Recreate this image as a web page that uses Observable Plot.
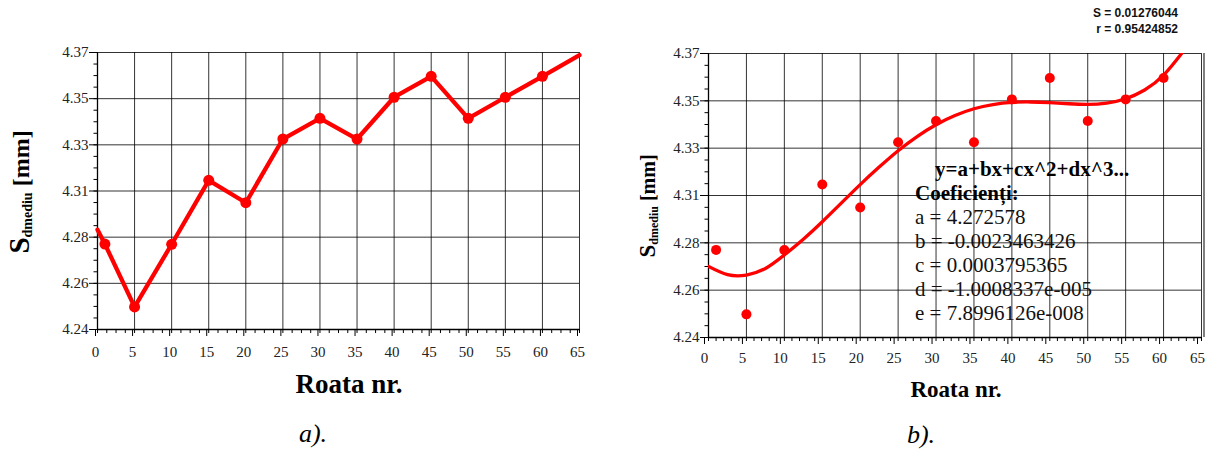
<!DOCTYPE html>
<html>
<head>
<meta charset="utf-8">
<style>
  html, body { margin: 0; padding: 0; background: #fff; }
  #wrap { position: relative; width: 1211px; height: 450px; overflow: hidden; background: #fff; }
  #wrap > svg { position: absolute; margin: 0; }
  #wrap svg text, #wrap svg tspan { font-family: "Liberation Serif"; }
  #wrap svg text.sans { font-family: "Liberation Sans"; }
</style>
</head>
<body>
<div id="wrap"></div>
<script src="https://cdn.jsdelivr.net/npm/d3@7"></script>
<script src="https://cdn.jsdelivr.net/npm/@observablehq/plot@0.6"></script>
<script>
// ---------- data ----------
const roata = [1, 5, 10, 15, 20, 25, 30, 35, 40, 45, 50, 55, 60];
const sdmediu = [4.2801, 4.2506, 4.2800, 4.3100, 4.2995, 4.3294, 4.3391, 4.3294, 4.3490, 4.3588, 4.3391, 4.3490, 4.3588];

// line in chart a) runs on to the frame edges
const lineStartX = 0, lineStartY = 4.2868;
const lineEndX = 65, lineEndY = 4.3688;

// fitted curve of chart b)
const fitX = [0, 2.5, 5, 7.5, 10, 12.5, 15, 17.5, 20, 22.5, 25, 27.5, 30, 32.5, 35, 37.5, 40, 42.5, 45, 47.5, 50, 52.5, 55, 57.5, 60, 62.6];
const fitY = [4.2725, 4.2688, 4.2686, 4.2716, 4.2778, 4.2850, 4.2930, 4.3015, 4.3100, 4.3180, 4.3255, 4.3320, 4.3374, 4.3416, 4.3447, 4.3466, 4.3476, 4.3478, 4.3475, 4.3470, 4.3467, 4.3473, 4.3493, 4.3533, 4.3601, 4.3710];

const xTickLabels = [0, 5, 10, 15, 20, 25, 30, 35, 40, 45, 50, 55, 60, 65];
const yTickLabels = ["4.24", "4.26", "4.28", "4.31", "4.33", "4.35", "4.37"];
const yMin = 4.24, yMax = 4.37;

const fitText = ["a = 4.272578", "b = -0.0023463426", "c = 0.0003795365", "d = -1.0008337e-005", "e = 7.8996126e-008"];
const statS = "S = 0.01276044";
const statR = "r = 0.95424852";

// ---------- derived tables ----------
const points = roata.map((x, i) => ({x, y: sdmediu[i]}));
const lineA = [{x: lineStartX, y: lineStartY}, ...points, {x: lineEndX, y: lineEndY}];
const fit = fitX.map((x, i) => ({x, y: fitY[i]}));
const yMajor = yTickLabels.map((_, i) => yMin + i * (yMax - yMin) / (yTickLabels.length - 1));
const yMinor = d3.range(0, 25).map(i => yMin + i * (yMax - yMin) / 24);
const xMinorA = d3.range(0, 53).map(i => i * 1.25);
const xMinorB = d3.range(0, 66);
const yFmt = d => yTickLabels[yMajor.indexOf(d)];

const SERIF = "Liberation Serif";
const red = "#ff0000";
const gridStyle = {stroke: "#000", strokeOpacity: 0.8, strokeWidth: 1};

function chart(opts) {
  return Plot.plot({
    width: opts.width, height: opts.height,
    marginLeft: opts.ml, marginRight: opts.mr, marginTop: opts.mt, marginBottom: opts.mb,
    x: {domain: [0, 65]},
    y: {domain: [yMin, yMax]},
    style: {fontFamily: SERIF, fontSize: "15px", color: "#222", background: "transparent", overflow: "visible"},
    marks: [
      Plot.gridX(xTickLabels, gridStyle),
      Plot.gridY(yMajor, gridStyle),
      Plot.axisX(xTickLabels, {tickSize: 7, tickPadding: opts.xpad, label: null, dx: opts.xdx, stroke: "#000", fill: "#222", fontFamily: SERIF, fontSize: 15}),
      Plot.axisX(opts.xMinor, {tickSize: 4, tickFormat: () => "", label: null, stroke: "#000"}),
      Plot.axisY(yMajor, {tickSize: 8, tickPadding: 1, tickFormat: yFmt, label: null, stroke: "#000", fill: "#222", fontFamily: SERIF, fontSize: 15}),
      Plot.axisY(yMinor, {tickSize: 3.5, tickFormat: () => "", label: null, stroke: "#000"}),
      Plot.ruleX([0], {stroke: "#000", strokeWidth: 1.3}),
      Plot.ruleY([yMin], {stroke: "#000", strokeWidth: 1.3}),
      ...opts.marks
    ]
  });
}

const wrap = document.getElementById("wrap");

const left = chart({
  width: 600, height: 360, ml: 97, mr: 21, mt: 52, mb: 31, xpad: 10, xdx: -2, xMinor: xMinorA,
  marks: [
    Plot.line(lineA, {x: "x", y: "y", stroke: red, strokeWidth: 4.3, strokeLinejoin: "round"}),
    Plot.dot(points, {x: "x", y: "y", r: 5.5, fill: red})
  ]
});
left.style.left = "0px"; left.style.top = "0px";
wrap.appendChild(left);

const right = chart({
  width: 611, height: 370, ml: 108, mr: 10, mt: 53, mb: 33, xpad: 8, xdx: -4, xMinor: xMinorB,
  marks: [
    Plot.ruleX([65], {stroke: "#000", strokeWidth: 1, dx: 2.5}),
    Plot.line(fit, {x: "x", y: "y", stroke: red, strokeWidth: 3.3, curve: "natural", clip: true}),
    Plot.dot(points, {x: "x", y: "y", r: 5, fill: red})
  ]
});
right.style.left = "600px"; right.style.top = "0px";
wrap.appendChild(right);

// ---------- overlay texts ----------
const ov = d3.select(wrap).append("svg")
  .attr("width", 1211).attr("height", 450)
  .style("left", "0px").style("top", "0px").style("pointer-events", "none")
  .attr("font-family", SERIF).attr("fill", "#000");

function txt(x, y, s, size, extra = {}) {
  const t = ov.append("text").attr("x", x).attr("y", y).attr("font-size", size).attr("font-family", SERIF);
  for (const k in extra) t.attr(k, extra[k]);
  return t.text(s);
}

// y titles
function yTitle(x, y, sS, sSub, sMm, dy) {
  const t = ov.append("text").attr("transform", `translate(${x},${y}) rotate(-90)`)
    .attr("text-anchor", "middle").attr("font-weight", "bold").attr("font-family", SERIF);
  t.append("tspan").attr("font-size", sS).text("S");
  t.append("tspan").attr("font-size", sSub).attr("dy", dy).text("dmediu");
  t.append("tspan").attr("font-size", sMm).attr("dy", -dy).text(" [mm]");
}
yTitle(29, 192, 29, 14, 24, 3);
yTitle(655, 206, 23, 12, 20, 2.5);

// x titles
txt(349, 393, "Roata nr.", 27, {"text-anchor": "middle", "font-weight": "bold"});
txt(956, 397, "Roata nr.", 23, {"text-anchor": "middle", "font-weight": "bold"});

// panel labels
txt(313, 442, "a).", 26, {"text-anchor": "middle", "font-style": "italic"});
txt(921, 443, "b).", 26, {"text-anchor": "middle", "font-style": "italic"});

// stats
ov.append("text").attr("class", "sans").attr("x", 1178).attr("y", 17).attr("text-anchor", "end")
  .attr("font-family", "Liberation Sans").attr("font-weight", "bold")
  .attr("font-size", 12).attr("fill", "#111").text(statS);
ov.append("text").attr("class", "sans").attr("x", 1178).attr("y", 33).attr("text-anchor", "end")
  .attr("font-family", "Liberation Sans").attr("font-weight", "bold")
  .attr("font-size", 12).attr("fill", "#111").text(statR);

// fit legend
txt(935, 176, "y=a+bx+cx^2+dx^3...", 21, {"font-weight": "bold"});
txt(915, 200, "Coeficienți:", 21, {"font-weight": "bold"});
fitText.forEach((s, i) => txt(915, 224 + i * 24, s, 21, {fill: "#111"}));
</script>
</body>
</html>
